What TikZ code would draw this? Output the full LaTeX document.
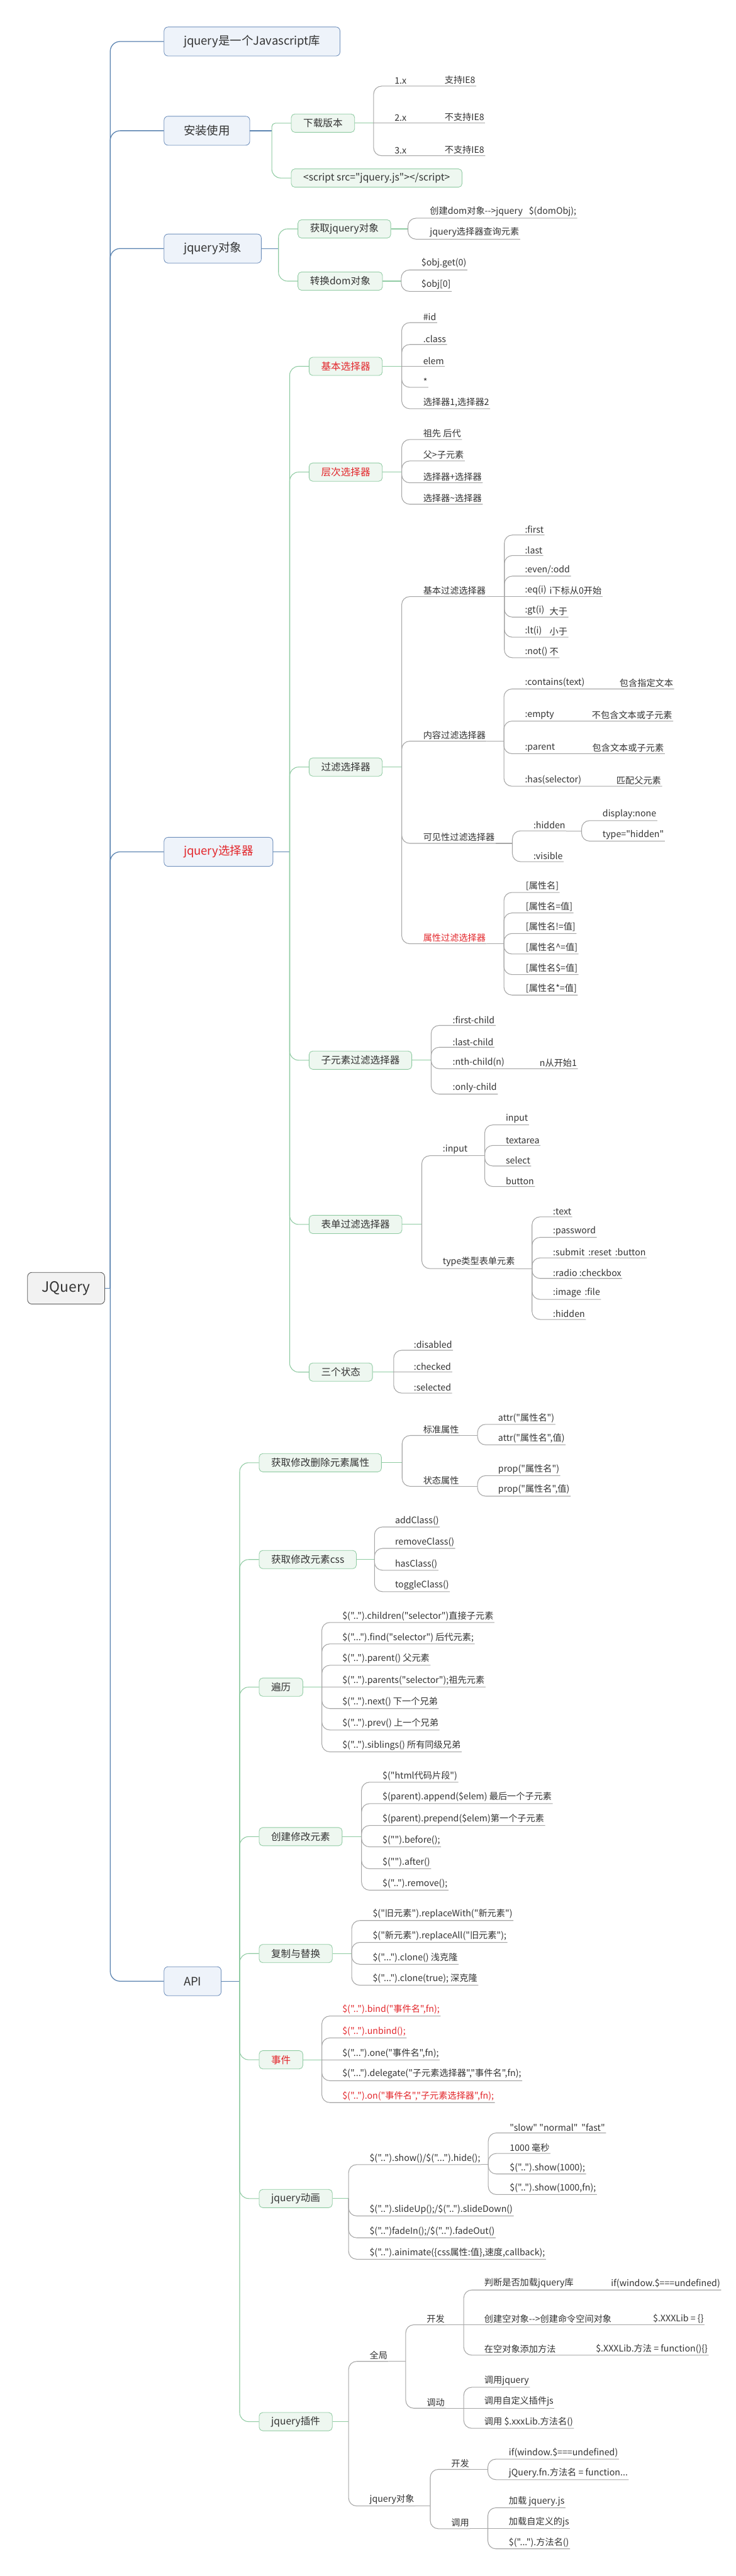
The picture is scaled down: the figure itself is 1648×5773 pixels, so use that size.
\documentclass[tikz,border=0pt]{standalone}
\usepackage{fontspec}
\newfontfamily\zh{Noto Sans CJK SC}
\definecolor{lonec}{HTML}{5B84B1}
\definecolor{loneb}{HTML}{6D8EBB}
\definecolor{lonef}{HTML}{EEF3FA}
\definecolor{ltwoc}{HTML}{8FCBA2}
\definecolor{ltwof}{HTML}{EEF7F0}
\definecolor{leafc}{HTML}{A6A6A6}
\definecolor{txt}{HTML}{333333}
\definecolor{redt}{HTML}{E3262B}
\definecolor{rootb}{HTML}{555555}
\definecolor{rootf}{HTML}{F2F2F2}
\newcommand\fork[5]{%
  \coordinate (J) at (#4);
  \draw[#1] (#3) -- (J);
  \foreach \ch in {#5}{\draw[#2] (J) |- (\ch);}
}
\begin{document}
\begin{tikzpicture}[x=1pt,y=-1pt,
  rootbox/.style={draw=rootb,fill=rootf,rounded corners=10pt,line width=1.2pt,minimum width=173pt,minimum height=71pt,font=\zh\fontsize{32}{38}\selectfont,text=txt,anchor=west},
  lonebox/.style={draw=loneb,fill=lonef,rounded corners=9pt,line width=1.2pt,minimum height=65pt,inner xsep=44pt,font=\zh\fontsize{26}{30}\selectfont,text=txt,anchor=west},
  ltwobox/.style={draw=ltwoc,fill=ltwof,rounded corners=8pt,line width=1.2pt,minimum height=41pt,inner xsep=27pt,font=\zh\fontsize{22}{26}\selectfont,text=txt,anchor=west},
  leaf/.style={anchor=south west,inner xsep=2pt,inner ysep=4pt,text=txt,font=\zh\fontsize{20}{24}\selectfont},
  hot/.style={text=redt},
  cone/.style={draw=lonec,line width=1.8pt,rounded corners=22pt},
  ctwo/.style={draw=ltwoc,line width=1.5pt,rounded corners=20pt},
  cthree/.style={draw=leafc,line width=1.5pt,rounded corners=18pt},
]
\fill[white] (0,0) rectangle (1648,5773);
\useasboundingbox (0,0) rectangle (1648,5773);

% ---------- root and level 1
\node[rootbox] (root) at (61,2887) {JQuery};
\node[lonebox] (n1) at (367,93) {jquery是一个Javascript库};
\node[lonebox] (n2) at (367,293) {安装使用};
\node[lonebox] (n3) at (367,557) {jquery对象};
\node[lonebox,hot] (n4) at (367,1909) {jquery选择器};
\node[lonebox] (n5) at (367,4440) {API};
\fork{cone}{cone}{root.east}{247,2887}{n1.west,n2.west,n3.west,n4.west,n5.west}

% ---------- 安装使用
\node[ltwobox] (d1) at (652,276) {下载版本};
\node[ltwobox] (d2) at (652,399) {<script src="jquery.js"></script>};
\fork{cone}{ctwo,rounded corners=8pt}{n2.east}{609,293}{d1.west}
\fork{cone}{ctwo}{n2.east}{609,293}{d2.west}
\node[leaf] (v1) at (882,193) {1.x};
\node[leaf] (v1b) at (994,193) {支持IE8};
\node[leaf] (v2) at (882,276) {2.x};
\node[leaf] (v2b) at (994,276) {不支持IE8};
\node[leaf] (v3) at (882,349) {3.x};
\node[leaf] (v3b) at (994,349) {不支持IE8};
\fork{ctwo}{cthree}{d1.east}{837,276}{v1b.south east,v3b.south east}
\draw[cthree] (J) -- (v2b.south east);

% ---------- jquery对象
\node[ltwobox] (o1) at (667,513) {获取jquery对象};
\node[ltwobox] (o2) at (667,630) {转换dom对象};
\fork{cone}{ctwo}{n3.east}{624,557}{o1.west,o2.west}
\node[leaf] (q1) at (961,489) {创建dom对象-->jquery\hspace{14pt}\$(domObj);};
\node[leaf] (q2) at (961,536) {jquery选择器查询元素};
\fork{ctwo}{cthree}{o1.east}{914,513}{q1.south east,q2.south east}
\node[leaf] (r1) at (942,605) {\$obj.get(0)};
\node[leaf] (r2) at (942,653) {\$obj[0]};
\fork{ctwo}{cthree}{o2.east}{899,630}{r1.south east,r2.south east}

% ---------- jquery选择器
\node[ltwobox,hot] (s1) at (692,821) {基本选择器};
\node[ltwobox,hot] (s2) at (692,1058) {层次选择器};
\node[ltwobox] (s3) at (692,1719) {过滤选择器};
\node[ltwobox] (s4) at (692,2376) {子元素过滤选择器};
\node[ltwobox] (s5) at (692,2744) {表单过滤选择器};
\node[ltwobox] (s6) at (692,3075) {三个状态};
\fork{cone}{ctwo}{n4.east}{649,1909}{s1.west,s2.west,s3.west,s4.west,s5.west,s6.west}

\node[leaf] (e1) at (946,723) {\#id};
\node[leaf] (e2) at (946,772) {.class};
\node[leaf] (e3) at (946,821) {elem};
\node[leaf] (e4) at (946,868) {*};
\node[leaf] (e5) at (946,916) {选择器1,选择器2};
\fork{ctwo}{cthree}{s1.east}{900,821}{e1.south east,e2.south east,e4.south east,e5.south east}
\draw[cthree] (J) -- (e3.south east);

\node[leaf] (h1) at (946,985) {祖先 后代};
\node[leaf] (h2) at (946,1033) {父>子元素};
\node[leaf] (h3) at (946,1082) {选择器+选择器};
\node[leaf] (h4) at (946,1130) {选择器\textasciitilde{}选择器};
\fork{ctwo}{cthree}{s2.east}{900,1058}{h1.south east,h2.south east,h3.south east,h4.south east}

\node[leaf] (f1) at (946,1337) {基本过滤选择器};
\node[leaf] (f2) at (946,1661) {内容过滤选择器};
\node[leaf] (f3) at (946,1890) {可见性过滤选择器};
\node[leaf,hot] (f4) at (946,2115) {属性过滤选择器};
\fork{ctwo}{cthree}{s3.east}{900,1719}{f1.south east,f2.south east,f3.south east,f4.south east}

\node[leaf] (k1) at (1174,1199) {:first};
\node[leaf] (k2) at (1174,1245) {:last};
\node[leaf] (k3) at (1174,1291) {:even/:odd};
\node[leaf] (k4) at (1174,1337) {:eq(i)};
\node[leaf] (k4b) at (1229,1337) {i下标从0开始};
\node[leaf] (k5) at (1174,1383) {:gt(i)};
\node[leaf] (k5b) at (1229,1383) {大于};
\node[leaf] (k6) at (1174,1428) {:lt(i)};
\node[leaf] (k6b) at (1229,1428) {小于};
\node[leaf] (k7) at (1174,1474) {:not()};
\node[leaf] (k7b) at (1229,1474) {不};
\fork{cthree}{cthree}{f1.south east}{1130,1337}{k1.south east,k2.south east,k3.south east,k5b.south east,k6b.south east,k7b.south east}
\draw[cthree] (J) -- (k4b.south east);

\node[leaf] (t1) at (1174,1544) {:contains(text)};
\node[leaf] (t1b) at (1386,1544) {包含指定文本};
\node[leaf] (t2) at (1174,1616) {:empty};
\node[leaf] (t2b) at (1324,1616) {不包含文本或子元素};
\node[leaf] (t3) at (1174,1689) {:parent};
\node[leaf] (t3b) at (1325,1689) {包含文本或子元素};
\node[leaf] (t4) at (1174,1762) {:has(selector)};
\node[leaf] (t4b) at (1379,1762) {匹配父元素};
\fork{cthree}{cthree}{f2.south east}{1129,1661}{t1b.south east,t2b.south east,t3b.south east,t4b.south east}

\node[leaf] (g1) at (1193,1862) {:hidden};
\node[leaf] (g2) at (1193,1931) {:visible};
\fork{cthree}{cthree}{f3.south east}{1148,1890}{g1.south east,g2.south east}
\node[leaf] (g11) at (1348,1839) {display:none};
\node[leaf] (g12) at (1348,1885) {type="hidden"};
\fork{cthree}{cthree}{g1.south east}{1303,1862}{g11.south east,g12.south east}

\node[leaf] (w1) at (1176,2000) {[属性名]};
\node[leaf] (w2) at (1176,2046) {[属性名=值]};
\node[leaf] (w3) at (1176,2092) {[属性名!=值]};
\node[leaf] (w4) at (1176,2138) {[属性名\textasciicircum{}=值]};
\node[leaf] (w5) at (1176,2184) {[属性名\$=值]};
\node[leaf] (w6) at (1176,2230) {[属性名*=值]};
\fork{cthree}{cthree}{f4.south east}{1129,2115}{w1.south east,w2.south east,w3.south east,w4.south east,w5.south east,w6.south east}

\node[leaf] (u1) at (1012,2298) {:first-child};
\node[leaf] (u2) at (1012,2347) {:last-child};
\node[leaf] (u3) at (1012,2395) {:nth-child(n)};
\node[leaf] (u3b) at (1207,2395) {n从开始1};
\node[leaf] (u4) at (1012,2452) {:only-child};
\fork{ctwo}{cthree}{s4.east}{966,2376}{u1.south east,u2.south east,u3b.south east,u4.south east}

\node[leaf] (i1) at (990,2590) {:input};
\node[leaf] (i2) at (990,2843) {type类型表单元素};
\fork{ctwo}{cthree}{s5.east}{945,2744}{i1.south east,i2.south east}
\node[leaf] (x1) at (1131,2521) {input};
\node[leaf] (x2) at (1131,2567) {textarea};
\node[leaf] (x3) at (1131,2613) {select};
\node[leaf] (x4) at (1131,2659) {button};
\fork{cthree}{cthree}{i1.south east}{1086,2590}{x1.south east,x2.south east,x3.south east,x4.south east}
\node[leaf] (y1) at (1237,2727) {:text};
\node[leaf] (y2) at (1237,2773) {:password};
\node[leaf] (y3) at (1237,2819) {:submit\hspace{8pt}:reset\hspace{8pt}:button};
\node[leaf] (y4) at (1237,2865) {:radio :checkbox};
\node[leaf] (y5) at (1237,2912) {:image\hspace{8pt}:file};
\node[leaf] (y6) at (1237,2957) {:hidden};
\fork{cthree}{cthree}{i2.south east}{1192,2843}{y1.south east,y2.south east,y3.south east,y4.south east,y5.south east,y6.south east}

\node[leaf] (z1) at (925,3026) {:disabled};
\node[leaf] (z2) at (925,3075) {:checked};
\node[leaf] (z3) at (925,3122) {:selected};
\fork{ctwo}{cthree}{s6.east}{882,3075}{z1.south east,z3.south east}
\draw[cthree] (J) -- (z2.south east);

% ---------- API
\node[ltwobox] (a1) at (580,3278) {获取修改删除元素属性};
\node[ltwobox] (a2) at (580,3495) {获取修改元素css};
\node[ltwobox] (a3) at (580,3781) {遍历};
\node[ltwobox] (a4) at (580,4116) {创建修改元素};
\node[ltwobox] (a5) at (580,4378) {复制与替换};
\node[ltwobox,hot] (a6) at (580,4616) {事件};
\node[ltwobox] (a7) at (580,4927) {jquery动画};
\node[ltwobox] (a8) at (580,5427) {jquery插件};
\fork{cone}{ctwo}{n5.east}{537,4440}{a1.west,a2.west,a3.west,a4.west,a5.west,a6.west,a7.west,a8.west}

\node[leaf] (b1) at (946,3217) {标准属性};
\node[leaf] (b2) at (946,3331) {状态属性};
\fork{ctwo}{cthree}{a1.east}{901,3278}{b1.south east,b2.south east}
\node[leaf] (b11) at (1114,3192) {attr("属性名")};
\node[leaf] (b12) at (1114,3238) {attr("属性名",值)};
\fork{cthree}{cthree}{b1.south east}{1070,3217}{b11.south east,b12.south east}
\node[leaf] (b21) at (1114,3307) {prop("属性名")};
\node[leaf] (b22) at (1114,3353) {prop("属性名",值)};
\fork{cthree}{cthree}{b2.south east}{1070,3331}{b21.south east,b22.south east}

\node[leaf] (cs1) at (883,3422) {addClass()};
\node[leaf] (cs2) at (883,3470) {removeClass()};
\node[leaf] (cs3) at (883,3519) {hasClass()};
\node[leaf] (cs4) at (883,3567) {toggleClass()};
\fork{ctwo}{cthree}{a2.east}{839,3495}{cs1.south east,cs2.south east,cs3.south east,cs4.south east}

\node[leaf] (tr1) at (765,3636) {\$("..").children("selector")直接子元素};
\node[leaf] (tr2) at (765,3684) {\$("...").find("selector") 后代元素;};
\node[leaf] (tr3) at (765,3732) {\$("..").parent() 父元素};
\node[leaf] (tr4) at (765,3781) {\$("..").parents("selector");祖先元素};
\node[leaf] (tr5) at (765,3829) {\$("..").next() 下一个兄弟};
\node[leaf] (tr6) at (765,3877) {\$("..").prev() 上一个兄弟};
\node[leaf] (tr7) at (765,3926) {\$("..").siblings() 所有同级兄弟};
\fork{ctwo}{cthree}{a3.east}{721,3781}{tr1.south east,tr2.south east,tr3.south east,tr5.south east,tr6.south east,tr7.south east}
\draw[cthree] (J) -- (tr4.south east);

\node[leaf] (cr1) at (855,3994) {\$("html代码片段")};
\node[leaf] (cr2) at (855,4042) {\$(parent).append(\$elem) 最后一个子元素};
\node[leaf] (cr3) at (855,4091) {\$(parent).prepend(\$elem)第一个子元素};
\node[leaf] (cr4) at (855,4139) {\$("").before();};
\node[leaf] (cr5) at (855,4188) {\$("").after()};
\node[leaf] (cr6) at (855,4236) {\$("..").remove();};
\fork{ctwo}{cthree}{a4.east}{810,4116}{cr1.south east,cr2.south east,cr3.south east,cr4.south east,cr5.south east,cr6.south east}

\node[leaf] (rp1) at (833,4304) {\$("旧元素").replaceWith("新元素")};
\node[leaf] (rp2) at (833,4353) {\$("新元素").replaceAll("旧元素");};
\node[leaf] (rp3) at (833,4402) {\$("...").clone() 浅克隆};
\node[leaf] (rp4) at (833,4449) {\$("...").clone(true); 深克隆};
\fork{ctwo}{cthree}{a5.east}{788,4378}{rp1.south east,rp2.south east,rp3.south east,rp4.south east}

\node[leaf,hot] (ev1) at (765,4518) {\$("..").bind("事件名",fn);};
\node[leaf,hot] (ev2) at (765,4567) {\$("..").unbind();};
\node[leaf] (ev3) at (765,4616) {\$("...").one("事件名",fn);};
\node[leaf] (ev4) at (765,4663) {\$("...").delegate("子元素选择器","事件名",fn);};
\node[leaf,hot] (ev5) at (765,4712) {\$("..").on("事件名","子元素选择器",fn);};
\fork{ctwo}{cthree}{a6.east}{721,4616}{ev1.south east,ev2.south east,ev4.south east,ev5.south east}
\draw[cthree] (J) -- (ev3.south east);

\node[leaf] (m1) at (826,4851) {\$("..").show()/\$("...").hide();};
\node[leaf] (m2) at (826,4966) {\$("..").slideUp();/\$("..").slideDown()};
\node[leaf] (m3) at (826,5015) {\$("..")fadeIn();/\$("..").fadeOut()};
\node[leaf] (m4) at (826,5063) {\$("..").ainimate(\{css属性:值\},速度,callback);};
\fork{ctwo}{cthree}{a7.east}{781,4927}{m1.south east,m2.south east,m3.south east,m4.south east}
\node[leaf] (mm1) at (1140,4780) {"slow" "normal"\hspace{8pt}"fast"};
\node[leaf] (mm2) at (1140,4826) {1000 毫秒};
\node[leaf] (mm3) at (1140,4872) {\$("..").show(1000);};
\node[leaf] (mm4) at (1140,4918) {\$("..").show(1000,fn);};
\fork{cthree}{cthree}{m1.south east}{1094,4851}{mm1.south east,mm2.south east,mm3.south east,mm4.south east}

\node[leaf] (p1) at (826,5292) {全局};
\node[leaf] (p2) at (826,5616) {jquery对象};
\fork{ctwo}{cthree}{a8.east}{781,5427}{p1.south east,p2.south east}
\node[leaf] (p11) at (954,5210) {开发};
\node[leaf] (p12) at (954,5397) {调动};
\fork{cthree}{cthree}{p1.south east}{909,5292}{p11.south east,p12.south east}
\node[leaf] (pa1) at (1083,5132) {判断是否加载jquery库};
\node[leaf] (pa1b) at (1367,5132) {if(window.\$===undefined)};
\node[leaf] (pa2) at (1083,5210) {创建空对象-->创建命令空间对象};
\node[leaf] (pa2b) at (1461,5210) {\$.XXXLib = \{\}};
\node[leaf] (pa3) at (1083,5278) {在空对象添加方法};
\node[leaf] (pa3b) at (1333,5278) {\$.XXXLib.方法 = function()\{\}};
\fork{cthree}{cthree}{p11.south east}{1039,5210}{pa1b.south east,pa3b.south east}
\draw[cthree] (J) -- (pa2b.south east);
\node[leaf] (pb1) at (1083,5350) {调用jquery};
\node[leaf] (pb2) at (1083,5397) {调用自定义插件js};
\node[leaf] (pb3) at (1083,5442) {调用 \$.xxxLib.方法名()};
\fork{cthree}{cthree}{p12.south east}{1039,5397}{pb1.south east,pb3.south east}
\draw[cthree] (J) -- (pb2.south east);

\node[leaf] (p21) at (1009,5534) {开发};
\node[leaf] (p22) at (1009,5667) {调用};
\fork{cthree}{cthree}{p2.south east}{964,5616}{p21.south east,p22.south east}
\node[leaf] (pc1) at (1138,5511) {if(window.\$===undefined)};
\node[leaf] (pc2) at (1138,5557) {jQuery.fn.方法名 = function...};
\fork{cthree}{cthree}{p21.south east}{1093,5534}{pc1.south east,pc2.south east}
\node[leaf] (pd1) at (1138,5620) {加载 jquery.js};
\node[leaf] (pd2) at (1138,5667) {加载自定义的js};
\node[leaf] (pd3) at (1138,5712) {\$("...").方法名()};
\fork{cthree}{cthree}{p22.south east}{1093,5667}{pd1.south east,pd3.south east}
\draw[cthree] (J) -- (pd2.south east);
\end{tikzpicture}
\end{document}
